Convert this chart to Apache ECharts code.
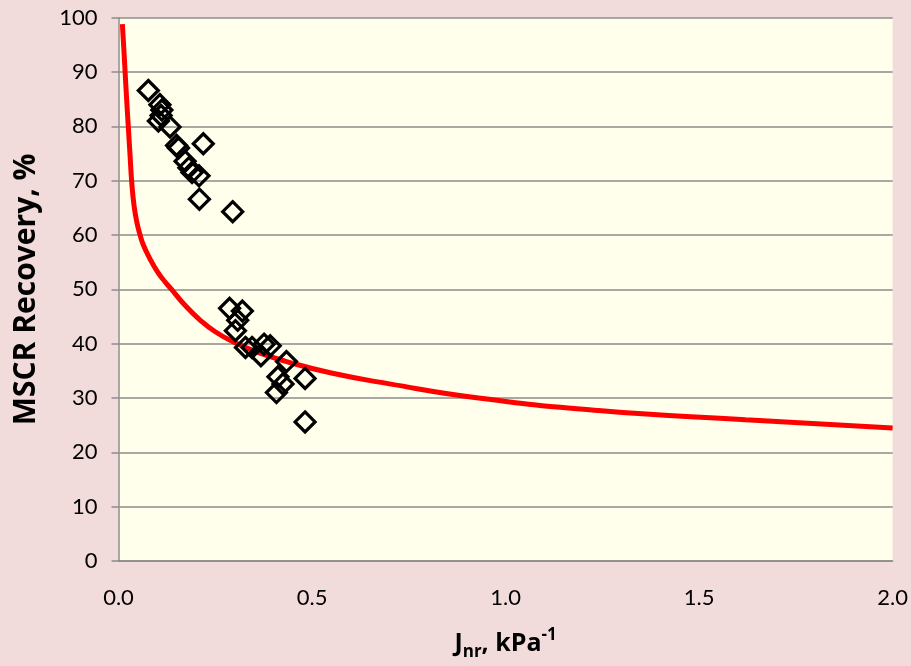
<!DOCTYPE html>
<html>
<head>
<meta charset="utf-8">
<script src="https://cdn.jsdelivr.net/npm/echarts@6/dist/echarts.min.js"></script>
<style>
html,body{margin:0;padding:0;background:#F2DCDB;}
#c{width:911px;height:666px;}
</style>
</head>
<body>
<div id="c"></div>
<script>
// Measured points (J_nr, MSCR Recovery %)
var pointsX = [0.077,0.107,0.112,0.110,0.103,0.133,0.150,0.155,0.219,0.172,0.182,0.190,0.208,0.209,0.295,
               0.287,0.320,0.308,0.302,0.328,0.345,0.376,0.368,0.392,0.434,0.412,0.425,0.408,0.482,0.482];
var pointsY = [86.6,84.0,83.0,82.0,81.0,79.9,76.5,76.0,76.8,73.6,72.4,71.5,70.9,66.6,64.3,
               46.5,46.0,44.3,42.4,39.3,39.3,39.9,37.8,39.6,36.7,33.9,32.6,31.0,33.6,25.6];
// Red trend curve
var curveX = [0.010,0.014,0.017,0.021,0.025,0.030,0.034,0.040,0.047,0.055,0.064,0.080,0.100,0.120,0.137,0.170,0.210,0.250,0.300,0.360,0.430,0.550,0.700,0.930,1.240,1.620,2.000];
var curveY = [98.8,94.0,90.1,85.0,80.3,74.5,69.9,65.5,62.5,60.2,58.2,55.8,53.3,51.4,50.0,47.2,44.4,42.2,40.2,38.4,36.8,34.6,32.6,30.0,27.7,26.0,24.5];
var xTicks = ['0.0','0.5','1.0','1.5','2.0'];

var scatterData = pointsX.map(function(x,i){return [x, pointsY[i]];});
var curveData = curveX.map(function(x,i){return [x, curveY[i]];});

var FONT = 'Lato';
var TFONT = 'Open Sans';
var chart = echarts.init(document.getElementById('c'), null, {renderer:'canvas'});
chart.setOption({
  backgroundColor: '#F2DCDB',
  animation: false,
  grid: {left: 118.5, right: 18, top: 17.7, bottom: 104.3, show: true, backgroundColor: '#FFFFEB', borderWidth: 0},
  xAxis: {
    type: 'value', min: 0, max: 2, interval: 0.5,
    axisLine: {show: true, lineStyle: {color: '#8C8C8C', width: 1.5}},
    axisTick: {show: false},
    splitLine: {show: false},
    axisLabel: {color: '#000', fontSize: 22, fontFamily: FONT, margin: 26,
      formatter: function(v){ return xTicks[Math.round(v/0.5)]; }},
    name: '{b|J}{sub|nr}{b|, kPa}{sup|-1}',
    nameLocation: 'middle', nameGap: 66,
    nameTextStyle: {
      rich: {
        b: {fontSize: 25, fontWeight: 'bold', fontFamily: TFONT, color: '#000', lineHeight: 34},
        sub: {fontSize: 17, fontWeight: 'bold', fontFamily: TFONT, color: '#000', lineHeight: 17, verticalAlign: 'bottom'},
        sup: {fontSize: 17, fontWeight: 'bold', fontFamily: TFONT, color: '#000', lineHeight: 17, verticalAlign: 'top'}
      }
    }
  },
  yAxis: {
    type: 'value', min: 0, max: 100, interval: 10,
    axisLine: {show: true, lineStyle: {color: '#8C8C8C', width: 1.5}},
    axisTick: {show: true, inside: false, length: 7, lineStyle: {color: '#8C8C8C', width: 1.5}},
    splitLine: {show: true, lineStyle: {color: '#8C8C8C', width: 1.5}},
    axisLabel: {color: '#000', fontSize: 22, fontFamily: FONT, margin: 21},
    name: 'MSCR Recovery, %',
    nameLocation: 'middle', nameGap: 77, nameRotate: 90,
    nameTextStyle: {fontSize: 30, fontWeight: 'bold', fontFamily: TFONT, color: '#000'}
  },
  series: [
    {
      type: 'line', data: curveData, smooth: 0.5, showSymbol: false, symbol: 'none',
      lineStyle: {color: '#FF0000', width: 5}, z: 2
    },
    {
      type: 'scatter', data: scatterData, symbol: 'diamond', symbolSize: 20,
      itemStyle: {color: 'rgba(0,0,0,0)', borderColor: '#000', borderWidth: 3.2, opacity: 1}, z: 3
    }
  ]
});
</script>
</body>
</html>
